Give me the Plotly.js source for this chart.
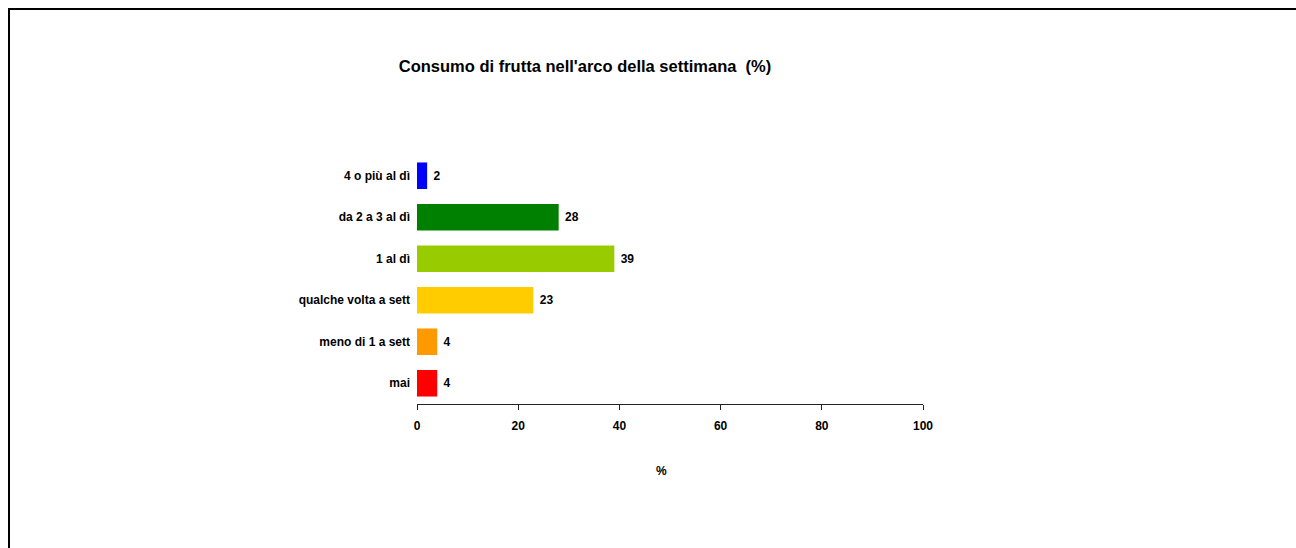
<!DOCTYPE html>
<html>
<head>
<meta charset="utf-8">
<script src="https://cdn.plot.ly/plotly-3.0.1.min.js"></script>
<style>
  html, body { margin: 0; padding: 0; background: #fff; }
  #chart { width: 1296px; height: 548px; }
</style>
</head>
<body>
<div id="chart"></div>
<script>
// Weekly fruit consumption, listed bottom-to-top as drawn on the y axis
const categories = ["mai", "meno di 1 a sett", "qualche volta a sett", "1 al dì", "da 2 a 3 al dì", "4 o più al dì"];
const values = [4, 4, 23, 39, 28, 2];
const barColors = ["#FF0000", "#FF9900", "#FFCC00", "#99CC00", "#008000", "#0000FF"];
const xTicks = [0, 20, 40, 60, 80, 100];

const FONT = "'Liberation Sans Narrow', 'Arial Narrow', 'Liberation Sans', Arial, sans-serif";

const W = 1296, H = 548;
const margin = { l: 417, r: 373, t: 155, b: 144, pad: 0 };
const plotW = W - margin.l - margin.r;
const plotH = H - margin.t - margin.b;

const trace = {
  type: "bar",
  orientation: "h",
  y: categories,
  x: values,
  marker: { color: barColors, line: { width: 0 } },
  text: values.map(v => " " + v),
  textposition: "outside",
  cliponaxis: false,
  textfont: { family: FONT, size: 12, color: "#000", weight: "bold" },
  hoverinfo: "none"
};

const layout = {
  width: W,
  height: H,
  margin: margin,
  paper_bgcolor: "#fff",
  plot_bgcolor: "#fff",
  showlegend: false,
  bargap: 0.36,
  font: { family: FONT, size: 12, color: "#000", weight: "bold" },
  title: {
    text: "<b>Consumo di frutta nell'arco della settimana  (%)</b>",
    font: { family: FONT, size: 16.5, color: "#000" },
    xref: "container", yref: "container",
    x: 585 / W, xanchor: "center",
    y: 1 - 66 / H, yanchor: "middle"
  },
  xaxis: {
    range: [0, 100],
    tickvals: xTicks,
    ticktext: xTicks.map(String),
    showgrid: false,
    zeroline: false,
    showline: true,
    linecolor: "#222",
    linewidth: 1,
    ticks: "outside",
    ticklen: 5,
    tickwidth: 1,
    tickcolor: "#222",
    ticklabelstandoff: 6,
    tickfont: { family: FONT, size: 12, color: "#000", weight: "bold" },
    fixedrange: true
  },
  yaxis: {
    type: "category",
    categoryorder: "array",
    categoryarray: categories,
    range: [-0.5, 5.5],
    showgrid: false,
    zeroline: false,
    showline: false,
    ticks: "",
    ticklabelstandoff: 6,
    tickfont: { family: FONT, size: 12, color: "#000", weight: "bold" },
    fixedrange: true
  },
  annotations: [{
    // x-axis title, centred under the full figure region rather than the axis span
    text: "<b>%</b>",
    xref: "paper", yref: "paper",
    x: (661 - margin.l) / plotW, xanchor: "center",
    y: -(471 - (H - margin.b)) / plotH, yanchor: "middle",
    showarrow: false,
    font: { family: FONT, size: 12, color: "#000" }
  }],
  shapes: [{
    // outer frame around the figure (left and top edges visible)
    type: "rect",
    xref: "paper", yref: "paper",
    x0: (9 - margin.l) / plotW,
    x1: (W + 10 - margin.l) / plotW,
    y0: -(margin.b + 10) / plotH,
    y1: 1 + (margin.t - 9) / plotH,
    line: { color: "#000", width: 2 },
    fillcolor: "rgba(0,0,0,0)",
    layer: "above"
  }]
};

Plotly.newPlot("chart", [trace], layout, { displayModeBar: false, staticPlot: true });
</script>
</body>
</html>
